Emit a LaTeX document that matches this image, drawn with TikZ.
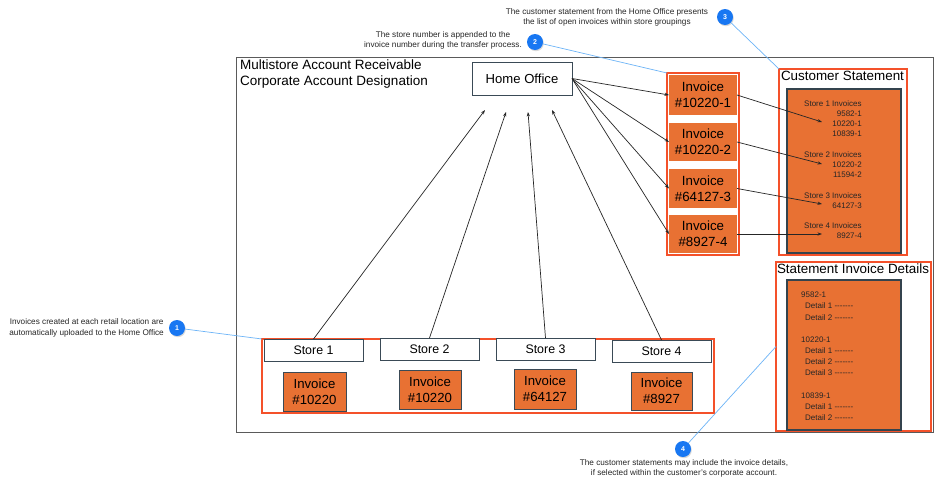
\documentclass[tikz,border=0pt]{standalone}
\usepackage{fontspec}
\setmainfont{Liberation Sans}
\usetikzlibrary{arrows.meta,shadows}
\definecolor{orng}{HTML}{E87133}
\definecolor{grp}{HTML}{F4512A}
\definecolor{slate}{HTML}{3A4A56}
\definecolor{frm}{HTML}{5A5A5A}
\definecolor{cline}{HTML}{6DB4F7}
\definecolor{badgeblue}{HTML}{1877F2}
\newcommand\dsh{-\kern0pt-\kern0pt-\kern0pt-\kern0pt-\kern0pt-\kern0pt-}
\begin{document}
\begin{tikzpicture}[x=1pt,y=-1pt,
  rbox/.style={rectangle, anchor=north west, inner sep=0pt, outer sep=0pt},
  frame/.style={rbox, draw=frm, fill=white, line width=1pt, drop shadow={opacity=0.25, shadow xshift=1pt, shadow yshift=-1pt}},
  grouprect/.style={rbox, draw=grp, line width=1.4pt},
  storebox/.style={rbox, draw=slate, line width=0.9pt, fill=white, font=\fontsize{12.4}{15}\selectfont},
  invbox/.style={rbox, draw=slate, line width=1pt, fill=orng, align=center, font=\fontsize{13.2}{16}\selectfont},
  cellbox/.style={rbox, fill=orng, align=center, font=\fontsize{13.3}{16}\selectfont},
  panel/.style={rbox, draw=slate!90!black, line width=1.2pt, fill=orng},
  ttl/.style={inner sep=0pt, font=\fontsize{13.4}{16}\selectfont},
  st/.style={inner sep=0pt, font=\fontsize{8}{9}\selectfont, text=black!85},
  arr/.style={-{Stealth[length=4.5pt,width=3.2pt]}, line width=0.7pt, draw=black!85},
  cl/.style={draw=cline, line width=0.7pt},
  badge/.style={circle, fill=badgeblue, minimum size=16pt, inner sep=0pt, text=white,
    font=\fontsize{7}{8}\selectfont\bfseries, drop shadow={opacity=0.3, shadow xshift=0.8pt, shadow yshift=-1.2pt}},
  note/.style={inner sep=0pt, align=center, font=\fontsize{8.2}{10.5}\selectfont, text=black!85}
]
\useasboundingbox (0,0) rectangle (937,488);

% main frame
\node[frame, minimum width=697pt, minimum height=375pt] (frame) at (236,57) {};
\node[inner sep=0pt, anchor=west, align=left, font=\fontsize{13.5}{16}\selectfont] (title) at (240,74)
  {Multistore Account Receivable\\Corporate Account Designation};

% home office
\node[storebox, minimum width=100pt, minimum height=33pt, font=\fontsize{13.1}{16}\selectfont] (ho) at (472,62) {Home Office};

% stores group
\node[grouprect, minimum width=452pt, minimum height=74pt] (sg) at (262,339) {};
\node[storebox, minimum width=99pt, minimum height=22pt] (s1) at (264,339) {Store 1};
\node[storebox, minimum width=99pt, minimum height=22pt] (s2) at (380,338) {Store 2};
\node[storebox, minimum width=99pt, minimum height=22pt] (s3) at (496,338) {Store 3};
\node[storebox, minimum width=99pt, minimum height=22pt] (s4) at (612,340) {Store 4};
\node[invbox, minimum width=63pt, minimum height=39pt] (i1) at (283,372) {Invoice\\\#10220};
\node[invbox, minimum width=62pt, minimum height=39pt] (i2) at (399,370) {Invoice\\\#10220};
\node[invbox, minimum width=62pt, minimum height=40pt] (i3) at (514,369) {Invoice\\\#64127};
\node[invbox, minimum width=61pt, minimum height=38pt] (i4) at (631,372) {Invoice\\\#8927};

% invoice column
\node[grouprect, minimum width=72pt, minimum height=182pt] (cg) at (667,73) {};
\node[cellbox, minimum width=68pt, minimum height=40pt] (c1) at (669,75) {Invoice\\\#10220-1};
\node[cellbox, minimum width=68pt, minimum height=38pt] (c2) at (669,123) {Invoice\\\#10220-2};
\node[cellbox, minimum width=68pt, minimum height=39pt] (c3) at (669,169) {Invoice\\\#64127-3};
\node[cellbox, minimum width=68pt, minimum height=38pt] (c4) at (669,215) {Invoice\\\#8927-4};

% customer statement
\node[grouprect, minimum width=128pt, minimum height=186pt] (csg) at (779,69) {};
\node[ttl] (cst) at (842.5,76) {Customer Statement};
\node[panel, minimum width=114pt, minimum height=164pt] (csp) at (787,89) {};
\node[st, anchor=west] (h1) at (804,104) {Store 1 Invoices};
\node[st, anchor=east] (n11) at (862,114) {9582-1};
\node[st, anchor=east] (n12) at (862,124) {10220-1};
\node[st, anchor=east] (n13) at (862,134) {10839-1};
\node[st, anchor=west] (h2) at (804,155) {Store 2 Invoices};
\node[st, anchor=east] (n21) at (862,165) {10220-2};
\node[st, anchor=east] (n22) at (862,175) {11594-2};
\node[st, anchor=west] (h3) at (804,196) {Store 3 Invoices};
\node[st, anchor=east] (n31) at (862,206) {64127-3};
\node[st, anchor=west] (h4) at (804,226) {Store 4 Invoices};
\node[st, anchor=east] (n41) at (862,236) {8927-4};

% statement invoice details
\node[grouprect, minimum width=155pt, minimum height=169pt] (dg) at (776,262) {};
\node[ttl] (dt) at (853,269) {Statement Invoice Details};
\node[panel, minimum width=114pt, minimum height=150pt] (dp) at (787,280) {};
\node[st, anchor=west] (d1) at (801,295) {9582-1};
\node[st, anchor=west] (d11) at (805,306) {Detail 1 \dsh};
\node[st, anchor=west] (d12) at (805,318) {Detail 2 \dsh};
\node[st, anchor=west] (d2) at (801,340) {10220-1};
\node[st, anchor=west] (d21) at (805,351) {Detail 1 \dsh};
\node[st, anchor=west] (d22) at (805,362) {Detail 2 \dsh};
\node[st, anchor=west] (d23) at (805,373) {Detail 3 \dsh};
\node[st, anchor=west] (d3) at (801,396) {10839-1};
\node[st, anchor=west] (d31) at (805,407) {Detail 1 \dsh};
\node[st, anchor=west] (d32) at (805,418) {Detail 2 \dsh};

% arrow end points
\coordinate (t1) at (485,110);
\coordinate (t2) at (506,112);
\coordinate (t3) at (528,112);
\coordinate (t4) at (552,110);
\coordinate (u1) at (822,122);
\coordinate (u2) at (822,164);
\coordinate (u3) at (822,204);
\coordinate (u4) at (822,234);

\draw[arr] (s1.north) -- (t1);
\draw[arr] (s2.north) -- (t2);
\draw[arr] (s3.north) -- (t3);
\draw[arr] (s4.north) -- (t4);

\draw[arr] (ho.east) -- (c1.west);
\draw[arr] (ho.east) -- (c2.west);
\draw[arr] (ho.east) -- (c3.west);
\draw[arr] (ho.east) -- (c4.west);

\draw[arr] (c1.east) -- (u1);
\draw[arr] (c2.east) -- (u2);
\draw[arr] (c3.east) -- (u3);
\draw[arr] (c4.east) -- (u4);

% callouts
\node[badge] (b1) at (177,328) {1};
\node[badge] (b2) at (535,42) {2};
\node[badge] (b3) at (725,17) {3};
\node[badge] (b4) at (683,449) {4};
\draw[cl] (b1) -- (sg.north west);
\draw[cl] (b2) -- (cg.north west);
\draw[cl] (b3) -- (csg.north west);
\draw[cl] (b4) -- (dg.west);
\node[note, anchor=east] (n1) at (164,328) {Invoices created at each retail location are\\automatically uploaded to the Home Office};
\node[note] (n2) at (443,40.5) {The store number is appended to the\\invoice number during the transfer process.};
\node[note] (n3) at (607,17.5) {The customer statement from the Home Office presents\\the list of open invoices within store groupings};
\node[note] (n4) at (684,468.5) {The customer statements may include the invoice details,\\if selected within the customer's corporate account.};
\end{tikzpicture}
\end{document}
